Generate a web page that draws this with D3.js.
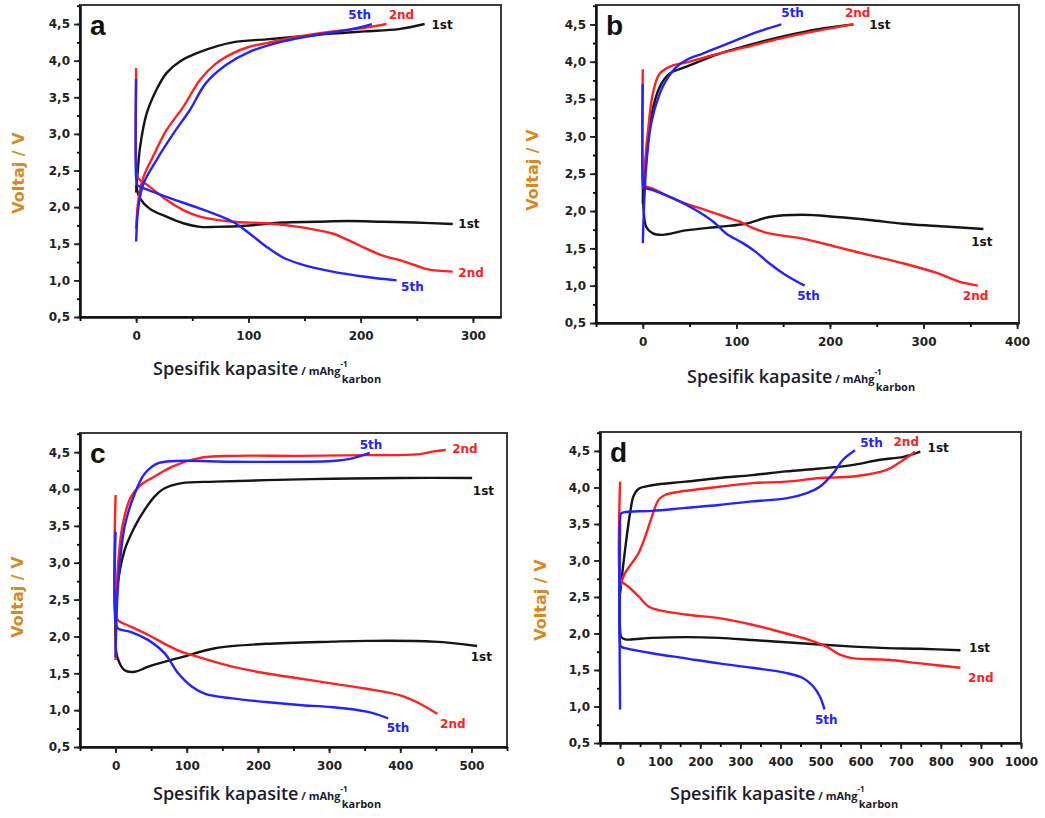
<!DOCTYPE html>
<html>
<head>
<meta charset="utf-8">
<script src="https://cdn.jsdelivr.net/npm/d3@7"></script>
<style>
  body { margin: 0; background: #fff; }
  svg { display: block; }
  text { font-family: "DejaVu Sans", Verdana, sans-serif; }
</style>
</head>
<body>
<svg id="chart" width="1045" height="818"></svg>
<script>
// ---- data: [capacity (mAh/g), voltage (V)] ----
const yTicks = [0.5, 1.0, 1.5, 2.0, 2.5, 3.0, 3.5, 4.0, 4.5];
const yMinor = d3.range(0.5, 4.76, 0.25);

const aXTicks = [0, 100, 200, 300];
const bXTicks = [0, 100, 200, 300, 400];
const cXTicks = [0, 100, 200, 300, 400, 500];
const dXTicks = [0, 100, 200, 300, 400, 500, 600, 700, 800, 900, 1000];

// panel a
const a1Charge = [[0,2.2],[1,2.4],[3.5,2.82],[9.4,3.28],[18,3.6],[27,3.83],[39,3.99],[57,4.12],[86,4.25],[116,4.29],[145,4.33],[175,4.37],[204,4.40],[234,4.43],[257,4.5]];
const a1Discharge = [[0,2.3],[3.5,2.12],[12,1.98],[27,1.87],[42,1.78],[57,1.73],[71,1.73],[101,1.75],[130,1.79],[160,1.80],[189,1.81],[219,1.80],[248,1.79],[282,1.77]];
const a2Charge = [[0,1.7],[2,2.1],[6.5,2.41],[15,2.69],[27,3.05],[42,3.37],[57,3.74],[71,3.96],[86,4.1],[101,4.19],[116,4.24],[145,4.33],[175,4.40],[204,4.45],[223,4.5]];
const a2Discharge = [[0,3.9],[0,2.6],[1,2.42],[3.5,2.37],[12,2.28],[27,2.1],[42,1.96],[57,1.87],[86,1.80],[116,1.78],[145,1.73],[160,1.69],[175,1.64],[189,1.55],[204,1.44],[219,1.34],[234,1.28],[248,1.21],[260,1.15],[282,1.12]];
const a5Charge = [[0,1.53],[2,2.0],[6.5,2.32],[18,2.64],[33,3.0],[48,3.33],[62,3.69],[80,3.94],[101,4.12],[130,4.26],[160,4.35],[189,4.42],[210,4.5]];
const a5Discharge = [[0,3.75],[0,2.4],[1,2.3],[3.5,2.28],[27,2.14],[57,1.98],[86,1.80],[101,1.64],[116,1.46],[130,1.32],[145,1.23],[175,1.12],[204,1.05],[232,1.0]];

// panel b
const b1Charge = [[0,2.1],[0.7,2.3],[3.6,2.68],[8.9,3.26],[18,3.66],[28.5,3.84],[46,3.93],[64,4.02],[82,4.11],[118,4.24],[153,4.35],[189,4.44],[225,4.5]];
const b1Discharge = [[0,2.5],[1,2.0],[3.6,1.79],[10.7,1.70],[21,1.68],[46,1.74],[82,1.79],[110,1.83],[135,1.92],[171,1.95],[207,1.92],[242,1.88],[278,1.83],[314,1.80],[364,1.76]];
const b2Charge = [[0,2.3],[5.3,3.04],[10.7,3.57],[18,3.84],[32,3.95],[46,3.99],[82,4.11],[118,4.22],[153,4.33],[189,4.42],[225,4.5]];
const b2Discharge = [[0,3.9],[0,2.45],[1,2.35],[10.7,2.30],[28.5,2.19],[46,2.10],[68,2.01],[89,1.92],[103,1.86],[118,1.77],[135,1.70],[171,1.63],[207,1.52],[242,1.41],[278,1.30],[314,1.17],[339,1.05],[358,1.0]];
const b5Charge = [[0,1.57],[3.6,2.59],[8.9,3.17],[18,3.57],[25,3.75],[36,3.93],[46,4.02],[64,4.11],[82,4.20],[100,4.29],[118,4.38],[148,4.5]];
const b5Discharge = [[0,3.7],[0,2.4],[1,2.32],[10.7,2.28],[36,2.15],[57,2.01],[75,1.86],[89,1.70],[107,1.57],[121,1.45],[135,1.30],[153,1.14],[173,1.0]];

// panel c
const c1Charge = [[0,2.4],[1,2.58],[12.7,3.17],[27,3.49],[41,3.72],[55,3.90],[69,4.01],[93,4.08],[140,4.10],[211,4.12],[305,4.14],[400,4.15],[501,4.15]];
const c1Discharge = [[0,2.3],[0,1.9],[2.4,1.72],[12.7,1.54],[27,1.52],[46,1.59],[93,1.72],[140,1.84],[211,1.90],[305,1.93],[353,1.94],[447,1.93],[508,1.87]];
const c2Charge = [[0,1.68],[3.3,2.95],[10.4,3.54],[22,3.90],[36,4.06],[55,4.17],[79,4.30],[117,4.42],[164,4.45],[258,4.45],[353,4.46],[423,4.47],[447,4.51],[464,4.53]];
const c2Discharge = [[0,3.92],[0,2.3],[3.3,2.22],[22,2.13],[46,2.02],[69,1.90],[93,1.79],[117,1.72],[164,1.59],[211,1.50],[258,1.43],[305,1.36],[353,1.29],[400,1.20],[423,1.11],[452,0.95]];
const c5Charge = [[0,1.72],[3.3,2.67],[12.7,3.49],[27,3.94],[41,4.21],[60,4.35],[84,4.38],[164,4.37],[258,4.37],[305,4.38],[334,4.42],[357,4.49]];
const c5Discharge = [[0,3.42],[0,2.2],[3.3,2.11],[22,2.06],[46,1.95],[69,1.77],[88,1.50],[107,1.32],[126,1.22],[164,1.16],[211,1.11],[258,1.07],[305,1.04],[353,0.98],[383,0.89]];

// panel d
const d1Charge = [[0,2.55],[12.6,3.15],[25,3.65],[33.5,3.88],[46,3.98],[79.5,4.03],[163,4.08],[247,4.13],[330,4.17],[414,4.22],[498,4.26],[582,4.31],[648,4.38],[707,4.42],[749,4.49]];
const d1Discharge = [[0,2.7],[0,2.05],[3,1.95],[12.6,1.92],[79.5,1.94],[163,1.95],[247,1.94],[330,1.91],[414,1.88],[582,1.82],[665,1.80],[749,1.79],[849,1.77]];
const d2Charge = [[0,2.64],[12.6,2.83],[29,2.96],[46,3.1],[63,3.33],[79.5,3.60],[96,3.83],[113,3.90],[146,3.94],[247,4.01],[330,4.06],[414,4.08],[498,4.13],[582,4.15],[665,4.24],[707,4.38],[736,4.49]];
const d2Discharge = [[0,4.08],[0,2.75],[4,2.71],[21,2.64],[46,2.51],[71,2.37],[96,2.32],[163,2.26],[247,2.21],[330,2.12],[414,2.0],[473,1.91],[515,1.82],[548,1.71],[582,1.66],[665,1.64],[749,1.59],[849,1.53]];
const d5Charge = [[0,0.96],[0,3.55],[2,3.64],[8.4,3.66],[79.5,3.68],[163,3.72],[247,3.76],[330,3.81],[414,3.85],[464,3.92],[498,4.01],[531,4.19],[556,4.38],[586,4.51]];
const d5Discharge = [[0,3.5],[0,1.86],[2,1.82],[12,1.80],[79.5,1.73],[163,1.66],[247,1.59],[330,1.53],[414,1.46],[456,1.39],[481,1.28],[498,1.14],[510,0.96]];

// cycle labels: [text, cycle, capacity, voltage]
const aLabels = [['5th','5th',189,4.62],['2nd','2nd',225,4.62],['1st','1st',263,4.49],['1st','1st',287,1.77],['2nd','2nd',287,1.10],['5th','5th',236,0.91]];
const bLabels = [['5th','5th',148,4.65],['2nd','2nd',216,4.66],['1st','1st',242,4.49],['1st','1st',351,1.59],['2nd','2nd',342,0.86],['5th','5th',165,0.86]];
const cLabels = [['5th','5th',343,4.60],['2nd','2nd',473,4.54],['1st','1st',502,3.97],['1st','1st',499,1.72],['2nd','2nd',456,0.81],['5th','5th',381,0.76]];
const dLabels = [['5th','5th',599,4.61],['2nd','2nd',682,4.62],['1st','1st',767,4.54],['1st','1st',870,1.80],['2nd','2nd',868,1.39],['5th','5th',486,0.82]];

const colour = { '1st': '#151515', '2nd': '#ff2020', '5th': '#2323ff' };

// ---- layout ----
const panels = [
  { tag: 'a', box: [80, 501, 5, 317], xMax: 325, xTicks: aXTicks, yTitle: [18, 173], xTitle: [153, 375],
    series: [['1st', a1Charge], ['1st', a1Discharge], ['2nd', a2Charge], ['2nd', a2Discharge], ['5th', a5Charge], ['5th', a5Discharge]], labels: aLabels },
  { tag: 'b', box: [596, 1019, 5, 323], xMax: 402, xTicks: bXTicks, yTitle: [532, 170], xTitle: [687, 383],
    series: [['1st', b1Charge], ['1st', b1Discharge], ['2nd', b2Charge], ['2nd', b2Discharge], ['5th', b5Charge], ['5th', b5Discharge]], labels: bLabels },
  { tag: 'c', box: [80, 507, 433, 747], xMax: 550, xTicks: cXTicks, yTitle: [17, 597], xTitle: [153, 800],
    series: [['1st', c1Charge], ['1st', c1Discharge], ['2nd', c2Charge], ['2nd', c2Discharge], ['5th', c5Charge], ['5th', c5Discharge]], labels: cLabels },
  { tag: 'd', box: [600, 1021, 432, 743], xMax: 1000, xTicks: dXTicks, yTitle: [540, 600], xTitle: [670, 800],
    series: [['1st', d1Charge], ['1st', d1Discharge], ['2nd', d2Charge], ['2nd', d2Discharge], ['5th', d5Charge], ['5th', d5Discharge]], labels: dLabels }
];

const svg = d3.select('#chart');
const comma = d => d3.format('.1f')(d).replace('.', ',');

panels.forEach(p => {
  const [x0, x1, y0, y1] = p.box;
  const x = d3.scaleLinear().domain([-50, p.xMax]).range([x0, x1]);
  const y = d3.scaleLinear().domain([0.5, 4.76]).range([y1, y0]);
  const g = svg.append('g');

  // frame
  g.append('rect')
    .attr('x', x0).attr('y', y0).attr('width', x1 - x0).attr('height', y1 - y0)
    .attr('fill', 'none').attr('stroke', '#3a3a3a').attr('stroke-width', 2);

  // minor ticks
  const xMinor = d3.range(-50, p.xMax + 1, 50);
  g.append('g').attr('transform', `translate(0,${y1})`)
    .call(d3.axisBottom(x).tickValues(xMinor).tickSize(4).tickFormat(''))
    .call(s => s.select('.domain').remove());
  g.append('g').attr('transform', `translate(${x0},0)`)
    .call(d3.axisLeft(y).tickValues(yMinor).tickSize(3).tickFormat(''))
    .call(s => s.select('.domain').remove());

  // major axes
  const xa = g.append('g').attr('transform', `translate(0,${y1})`)
    .call(d3.axisBottom(x).tickValues(p.xTicks).tickSize(6).tickSizeOuter(0).tickPadding(8).tickFormat(d3.format('d')));
  const ya = g.append('g').attr('transform', `translate(${x0},0)`)
    .call(d3.axisLeft(y).tickValues(yTicks).tickSize(6).tickSizeOuter(0).tickPadding(4).tickFormat(comma));
  [xa, ya].forEach(a => {
    a.select('.domain').attr('stroke', '#111').attr('stroke-width', 2.5);
    a.selectAll('.tick line').attr('stroke', '#222').attr('stroke-width', 1.8);
    a.selectAll('.tick text').attr('fill', '#222').style('font-size', '12px').style('font-weight', 'bold');
  });
  g.selectAll('.tick line').attr('stroke-width', 1.8);

  // curves
  const line = d3.line().x(d => x(d[0])).y(d => y(d[1])).curve(d3.curveCatmullRom.alpha(0.5));
  p.series.forEach(([cyc, pts]) => {
    g.append('path').datum(pts)
      .attr('d', line)
      .attr('fill', 'none')
      .attr('stroke', colour[cyc])
      .attr('stroke-width', 2.4)
      .attr('stroke-linejoin', 'round');
  });

  // cycle labels
  g.selectAll('.cyc').data(p.labels).join('text')
    .attr('x', d => x(d[2])).attr('y', d => y(d[3]))
    .attr('dy', '0.35em')
    .attr('fill', d => colour[d[1]])
    .style('font-size', '12px').style('font-weight', 'bold')
    .text(d => d[0]);

  // panel letter
  g.append('text')
    .attr('x', x0 + 10).attr('y', y0 + 30)
    .style('font-size', '28px').style('font-weight', 'bold')
    .style('font-family', 'Arial, "Liberation Sans", sans-serif')
    .attr('fill', '#111')
    .text(p.tag);

  // y title
  g.append('text')
    .attr('transform', `translate(${p.yTitle[0]},${p.yTitle[1]}) rotate(-90)`)
    .attr('text-anchor', 'middle').attr('dy', '0.35em')
    .style('font-size', '16px').style('font-weight', 'bold')
    .attr('fill', '#d88a22')
    .text('Voltaj / V');

  // x title
  const t = g.append('text')
    .attr('x', p.xTitle[0]).attr('y', p.xTitle[1])
    .attr('fill', '#1c1c30')
    .style('font-family', '"Open Sans", sans-serif');
  t.append('tspan').style('font-size', '18px').style('font-weight', '600').text('Spesifik kapasite');
  t.append('tspan').style('font-size', '11px').style('font-weight', 'bold').text(' / mAhg');
  t.append('tspan').attr('dy', -8).style('font-size', '8px').style('font-weight', 'bold').text('-1');
  t.append('tspan').attr('dx', -6).attr('dy', 16).style('font-size', '11px').style('font-weight', 'bold').text('karbon');
});
</script>
</body>
</html>
